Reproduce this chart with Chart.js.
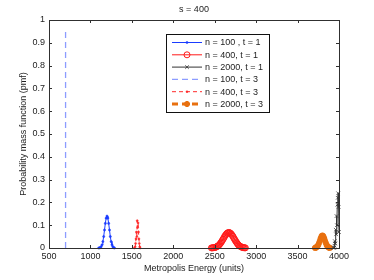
<!DOCTYPE html>
<html>
<head>
<meta charset="utf-8">
<script src="https://cdn.jsdelivr.net/npm/chart.js@4"></script>
<style>
  html, body { margin: 0; padding: 0; background: #fff; }
  #wrap { width: 374px; height: 280px; }
</style>
</head>
<body>
<div id="wrap"><canvas id="myChart" width="374" height="280"></canvas></div>
<script>
const titleText = "s = 400";
const xTicks = [500, 1000, 1500, 2000, 2500, 3000, 3500, 4000];
const yTicks = [0, 0.1, 0.2, 0.3, 0.4, 0.5, 0.6, 0.7, 0.8, 0.9, 1];

// n = 100, t = 1
const n100t1X = [1100,1110,1120,1130,1140,1150,1160,1170,1180,1190,1200,1210,1220,1230,1240,1250,1260,1270,1280,1290];
const n100t1Y = [0,0.001,0.002,0.006,0.014,0.028,0.05,0.079,0.108,0.131,0.14,0.131,0.108,0.079,0.05,0.028,0.014,0.006,0.002,0];

// n = 400, t = 1
const n400t1X = [2460,2470,2480,2490,2500,2510,2520,2530,2540,2550,2560,2570,2580,2590,2600,2610,2620,2630,2640,2650,2660,2670,
                 2680,2690,2700,2710,2720,2730,2740,2750,2760,2770,2780,2790,2800,2810,2820,2830,2840,2850,2860,2870];
const n400t1Y = [0.0004,0.0006,0.001,0.0015,0.002,0.003,0.005,0.007,0.009,0.012,0.016,0.021,0.026,0.032,0.038,0.044,0.051,0.056,0.061,0.065,0.067,0.068,
                 0.067,0.065,0.061,0.056,0.051,0.044,0.038,0.032,0.026,0.021,0.016,0.012,0.009,0.007,0.005,0.003,0.002,0.0015,0.001,0.0006];

// n = 2000, t = 1
const n2000t1X = [3935,3940,3945,3950,3955,3960,3965,3970,3975,3980,3985,3990,3995,4000];
const n2000t1Y = [0,0.002,0.01,0.03,0.02,0.08,0.06,0.14,0.1,0.19,0.22,0.24,0.18,0.07];

// n = 100, t = 3
const n100t3X = [700, 700];
const n100t3Y = [0, 0.95];

// n = 400, t = 3
const n400t3X = [1530,1540,1545,1550,1555,1560,1565,1570,1575,1580,1585,1590,1595,1600];
const n400t3Y = [0,0.005,0.02,0.04,0.07,0.05,0.12,0.09,0.11,0.07,0.04,0.02,0.005,0];

// n = 2000, t = 3
const n2000t3X = [3710,3720,3730,3740,3750,3760,3770,3780,3790,3800,3810,3820,3830,3840,3850,3860,3870,3880,3890];
const n2000t3Y = [0.0006,0.0016,0.0036,0.0074,0.014,0.023,0.033,0.044,0.052,0.055,0.052,0.044,0.033,0.023,0.014,0.0074,0.0036,0.0016,0.0006];

const seriesLabels = ["n = 100 , t = 1", "n = 400, t = 1", "n = 2000, t = 1", "n = 100, t = 3", "n = 400, t = 3", "n = 2000, t = 3"];

function pts(xs, ys) { return xs.map((x, i) => ({x: x, y: ys[i]})); }

const FONT = "'Liberation Sans', Arial, sans-serif";
const FS = 9;
const TXT = "#222";

const datasets = [
  {label: seriesLabels[0], data: pts(n100t1X, n100t1Y), borderColor: "#1a3cff", backgroundColor: "#1a3cff",
   borderWidth: 1, pointStyle: "circle", pointRadius: 1.1, pointBorderWidth: 0.5},
  {label: seriesLabels[1], data: pts(n400t1X, n400t1Y), borderColor: "#ff1a1a", backgroundColor: "rgba(0,0,0,0)",
   borderWidth: 1, pointStyle: "circle", pointRadius: 3, pointBorderWidth: 1},
  {label: seriesLabels[2], data: pts(n2000t1X, n2000t1Y), borderColor: "#333", backgroundColor: "#333",
   borderWidth: 1, pointStyle: "crossRot", pointRadius: 2.5, pointBorderWidth: 0.8},
  {label: seriesLabels[3], data: pts(n100t3X, n100t3Y), borderColor: "#8c9cff", backgroundColor: "#8c9cff",
   borderWidth: 1.3, borderDash: [6, 4], pointRadius: 0},
  {label: seriesLabels[4], data: pts(n400t3X, n400t3Y), borderColor: "#ff2a2a", backgroundColor: "#ff2a2a",
   borderWidth: 1, borderDash: [4, 3], pointStyle: "circle", pointRadius: 1, pointBorderWidth: 0.5},
  {label: seriesLabels[5], data: pts(n2000t3X, n2000t3Y), borderColor: "#e8700f", backgroundColor: "#e8700f",
   borderWidth: 3, borderDash: [6, 4], pointStyle: "star", pointRadius: 3, pointBorderWidth: 2}
];
datasets.forEach(d => { d.showLine = true; d.tension = 0; d.clip = false; });

const boxPlugin = {
  id: "boxPlugin",
  afterDraw(chart) {
    const ctx = chart.ctx, a = chart.chartArea;
    const xs = chart.scales.x, ys = chart.scales.y;
    ctx.save();
    // title
    ctx.fillStyle = TXT;
    ctx.font = FS + "px " + FONT;
    ctx.textAlign = "center";
    ctx.textBaseline = "middle";
    ctx.fillText(titleText, (a.left + a.right) / 2, 10);
    // box and inward ticks
    ctx.strokeStyle = "#303030";
    ctx.lineWidth = 1;
    ctx.strokeRect(a.left + 0.5, a.top + 0.5, a.right - a.left, a.bottom - a.top);
    ctx.beginPath();
    xTicks.forEach(v => {
      const px = Math.round(xs.getPixelForValue(v)) + 0.5;
      ctx.moveTo(px, a.bottom); ctx.lineTo(px, a.bottom - 3);
      ctx.moveTo(px, a.top); ctx.lineTo(px, a.top + 3);
    });
    yTicks.forEach(v => {
      const py = Math.round(ys.getPixelForValue(v)) + 0.5;
      ctx.moveTo(a.left, py); ctx.lineTo(a.left + 3, py);
      ctx.moveTo(a.right, py); ctx.lineTo(a.right - 3, py);
    });
    ctx.stroke();

    // legend
    const lx = 166, ly = 34, lw = 103, lh = 78, rowH = 12.3;
    ctx.fillStyle = "#fff";
    ctx.fillRect(lx, ly, lw, lh);
    ctx.strokeStyle = "#111";
    ctx.strokeRect(lx + 0.5, ly + 0.5, lw, lh);
    chart.data.datasets.forEach((d, i) => {
      const y = ly + 8.5 + i * rowH;
      ctx.save();
      ctx.strokeStyle = d.borderColor;
      ctx.lineWidth = d.borderWidth;
      ctx.setLineDash(d.borderDash || []);
      ctx.beginPath();
      ctx.moveTo(172, y); ctx.lineTo(202, y);
      ctx.stroke();
      ctx.setLineDash([]);
      if (d.pointRadius > 0 && Chart.helpers && Chart.helpers.drawPoint) {
        ctx.fillStyle = d.backgroundColor;
        ctx.lineWidth = d.pointBorderWidth;
        Chart.helpers.drawPoint(ctx, {pointStyle: d.pointStyle, radius: d.pointRadius, rotation: 0, borderWidth: d.pointBorderWidth}, 187, y);
      }
      ctx.restore();
      ctx.fillStyle = TXT;
      ctx.font = FS + "px " + FONT;
      ctx.textAlign = "left";
      ctx.fillText(d.label, 205, y + 0.5);
    });
    ctx.restore();
  }
};

new Chart("myChart", {
  type: "scatter",
  data: {datasets: datasets},
  options: {
    responsive: false,
    animation: false,
    layout: {padding: {top: 20, right: 35, left: 0, bottom: 0}},
    plugins: {legend: {display: false}, title: {display: false}, tooltip: {enabled: false}},
    scales: {
      x: {
        type: "linear", min: 500, max: 4000,
        afterBuildTicks: s => { s.ticks = xTicks.map(v => ({value: v})); },
        afterFit: s => { s.height = 32; },
        grid: {display: false, drawTicks: false}, border: {display: false},
        ticks: {color: TXT, font: {family: FONT, size: FS}, padding: 3, maxRotation: 0, autoSkip: false,
                callback: v => String(v)},
        title: {display: true, text: "Metropolis Energy (units)", color: TXT, font: {family: FONT, size: FS}, padding: {top: 0, bottom: 6}}
      },
      y: {
        type: "linear", min: 0, max: 1,
        afterBuildTicks: s => { s.ticks = yTicks.map(v => ({value: v})); },
        afterFit: s => { s.width = 49; },
        grid: {display: false, drawTicks: false}, border: {display: false},
        ticks: {color: TXT, font: {family: FONT, size: FS}, padding: 4, autoSkip: false,
                callback: v => String(Math.round(v * 10) / 10)},
        title: {display: true, text: "Probability mass function (pmf)", color: TXT, font: {family: FONT, size: FS}, padding: {top: 18, bottom: 0}}
      }
    }
  },
  plugins: [boxPlugin]
});
</script>
</body>
</html>
